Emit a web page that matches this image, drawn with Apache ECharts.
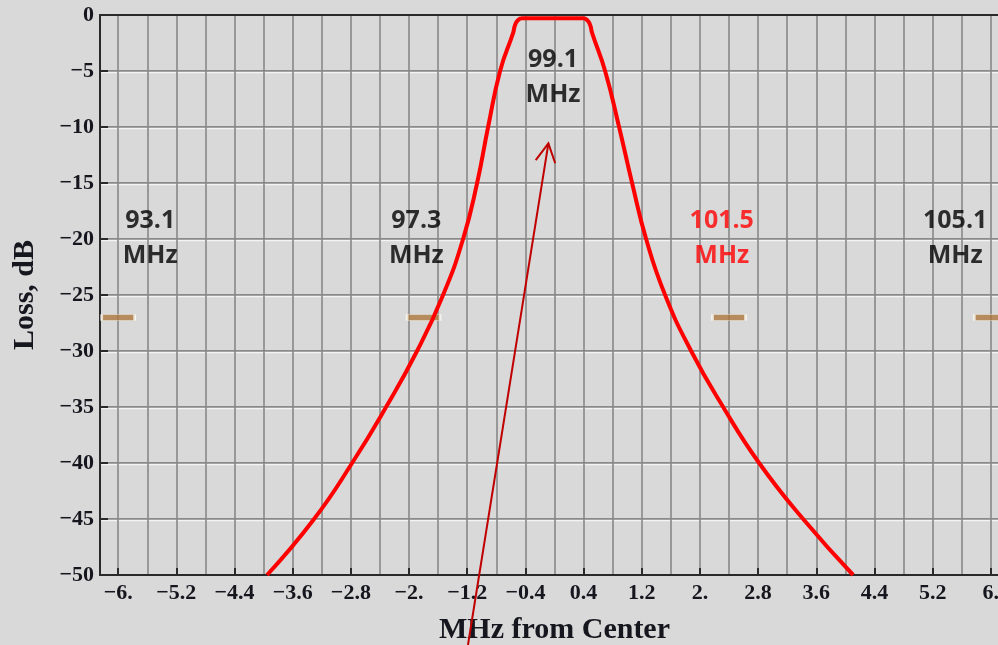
<!DOCTYPE html>
<html>
<head>
<meta charset="utf-8">
<script src="https://cdn.jsdelivr.net/npm/echarts@6/dist/echarts.min.js"></script>
<style>
  html, body { margin: 0; padding: 0; background: #d9d9d9; }
  #chart { width: 998px; height: 645px; }
</style>
</head>
<body>
<div id="chart"></div>
<script>
// Pass-band response of the 99.1 MHz channel filter: loss (dB) against offset from centre (MHz)
const offsetMHz = [-3.953, -3.306, -2.783, -2.316, -1.890, -1.532, -1.257, -1.064, -0.913, -0.748,
                   -0.569, -0.542, -0.50, -0.446, 0.393, 0.448, 0.49, 0.517,
                   0.696, 0.888, 1.067, 1.260, 1.521, 1.879, 2.319, 2.814, 3.419, 4.107];
const lossDb    = [-50, -45, -40, -35, -30, -25, -20, -15, -10, -5,
                   -1.6, -0.89, -0.45, -0.3, -0.3, -0.45, -0.89, -1.6,
                   -5, -10, -15, -20, -25, -30, -35, -40, -45, -50];

// Axis ticks
const xTickValues = [-6, -5.2, -4.4, -3.6, -2.8, -2, -1.2, -0.4, 0.4, 1.2, 2, 2.8, 3.6, 4.4, 5.2, 6];
const xTickLabels = ['−6.', '−5.2', '−4.4', '−3.6', '−2.8', '−2.', '−1.2', '−0.4',
                     '0.4', '1.2', '2.', '2.8', '3.6', '4.4', '5.2', '6.'];
const yTickValues = [0, -5, -10, -15, -20, -25, -30, -35, -40, -45, -50];
const yTickLabels = ['0', '−5', '−10', '−15', '−20', '−25', '−30', '−35', '−40', '−45', '−50'];

// Stations on the dial, offset from the tuned 99.1 MHz channel
const stationNames     = ['93.1', '97.3', '99.1', '101.5', '105.1'];
const stationOffsetMHz = [-6.0, -1.8, 0, 2.4, 6.0];
const adjacentLevelDb  = -27;
// where each station's caption sits (MHz, dB)
const captionOffsetMHz = [-5.56, -1.90, -0.02, 2.30, 5.51];
const captionLossDb    = [-19.9, -19.9, -5.6, -19.9, -19.9];
const tunedStation     = '99.1';
const flaggedStation   = '101.5';

// Pointer toward the tuned channel (MHz, dB)
const pointerFrom = [-1.19, -56.25];
const pointerTo   = [-0.084, -11.46];

const serif = "'Liberation Serif', 'Times New Roman', serif";
const ink = '#16161f';

// vertical grid every 0.4 MHz
const xGridValues = [];
for (let k = -15; k <= 15; k++) xGridValues.push(+(k * 0.4).toFixed(1));

const chart = echarts.init(document.getElementById('chart'), null, { renderer: 'canvas' });

const curve = offsetMHz.map((x, i) => [x, lossDb[i]]);
const markers = stationNames
  .map((n, i) => ({ name: n, value: [stationOffsetMHz[i], adjacentLevelDb] }))
  .filter(d => d.name !== tunedStation);
const captions = stationNames.map((n, i) => ({
  name: n + '\nMHz',
  value: [captionOffsetMHz[i], captionLossDb[i]],
  label: { color: n === flaggedStation ? '#ff0000' : '#000000' }
}));

chart.setOption({
  backgroundColor: '#d9d9d9',
  animation: false,
  grid: { left: 100, top: 15, width: 909, height: 560, containLabel: false, outerBoundsMode: 'none' },
  xAxis: [
    {
      type: 'value', min: -6.25, max: 6.25, position: 'bottom',
      name: 'MHz from Center', nameLocation: 'middle', nameGap: 40,
      nameTextStyle: { fontFamily: serif, fontWeight: 'bold', fontSize: 30, color: ink },
      axisLine: { show: true, onZero: false, lineStyle: { color: '#2a2a2a', width: 2 } },
      axisTick: { show: true, inside: true, length: 7, customValues: xTickValues,
                  lineStyle: { color: '#2a2a2a', width: 2 } },
      axisLabel: {
        show: true, margin: 7, customValues: xTickValues,
        fontFamily: serif, fontWeight: 'bold', fontSize: 22, color: ink,
        formatter: v => {
          const i = xTickValues.findIndex(t => Math.abs(t - v) < 1e-6);
          return i >= 0 ? xTickLabels[i] : '';
        }
      },
      splitLine: { show: false }
    },
    {
      type: 'value', min: -6.25, max: 6.25, position: 'top',
      axisLine: { show: true, onZero: false, lineStyle: { color: '#2a2a2a', width: 2 } },
      axisTick: { show: false, customValues: xGridValues },
      axisLabel: { show: false },
      splitLine: { show: true, lineStyle: { color: '#888888', width: 1.6 } }
    }
  ],
  yAxis: [
    {
      type: 'value', min: -50, max: 0, interval: 5, position: 'left',
      name: 'Loss, dB', nameLocation: 'middle', nameGap: 60,
      nameTextStyle: { fontFamily: serif, fontWeight: 'bold', fontSize: 30, color: ink },
      axisLine: { show: true, onZero: false, lineStyle: { color: '#2a2a2a', width: 2 } },
      axisTick: { show: true, inside: true, length: 8, lineStyle: { color: '#2a2a2a', width: 2 } },
      axisLabel: {
        margin: 6, fontFamily: serif, fontWeight: 'bold', fontSize: 22, color: ink,
        formatter: v => {
          const i = yTickValues.indexOf(v);
          return i >= 0 ? yTickLabels[i] : '';
        }
      },
      splitLine: { show: true, lineStyle: { color: '#6e6e6e', width: 1.5 } }
    },
    {
      // light edge under each horizontal rule
      type: 'value', min: -49.85, max: 0.15, position: 'left',
      axisLine: { show: false },
      axisTick: { show: false, customValues: [-45, -40, -35, -30, -25, -20, -15, -10, -5] },
      axisLabel: { show: false },
      splitLine: { show: true, lineStyle: { color: '#f4f4f4', width: 1.3 } }
    }
  ],
  series: [
    {
      type: 'line', name: 'filter', data: curve,
      showSymbol: false, smooth: 0.5, clip: true, z: 5,
      lineStyle: { color: '#ff0000', width: 4 }
    },
    {
      type: 'scatter', name: 'adjacent', data: markers,
      symbol: 'rect', symbolSize: [33, 6], z: 4,
      itemStyle: { color: '#ad7840', borderColor: 'rgba(255,255,250,0.9)', borderWidth: 1.2 }
    },
    {
      type: 'scatter', name: 'captions', data: captions,
      symbolSize: 1, itemStyle: { color: 'rgba(0,0,0,0)' }, z: 6,
      label: {
        show: true, position: 'inside', formatter: '{b}',
        fontFamily: "'Open Sans', Lato, sans-serif", fontWeight: 'bold',
        fontSize: 25, lineHeight: 35, align: 'center', verticalAlign: 'middle'
      }
    }
  ]
});

// pointer arrow drawn in pixel space from data coordinates
const a = chart.convertToPixel({ xAxisIndex: 0, yAxisIndex: 0 }, pointerFrom);
const b = chart.convertToPixel({ xAxisIndex: 0, yAxisIndex: 0 }, pointerTo);
const ang = Math.atan2(a[1] - b[1], a[0] - b[0]);
const headLen = 21, spread = 28 * Math.PI / 180;
const arm1 = [b[0] + headLen * Math.cos(ang + spread), b[1] + headLen * Math.sin(ang + spread)];
const arm2 = [b[0] + headLen * Math.cos(ang - spread), b[1] + headLen * Math.sin(ang - spread)];
chart.setOption({
  graphic: [
    { type: 'line', z: 20, shape: { x1: a[0], y1: a[1], x2: b[0], y2: b[1] },
      style: { stroke: '#c00000', lineWidth: 2 } },
    { type: 'polyline', z: 20, shape: { points: [arm1, b, arm2] },
      style: { stroke: '#c00000', lineWidth: 2, fill: null } }
  ]
});
</script>
</body>
</html>
